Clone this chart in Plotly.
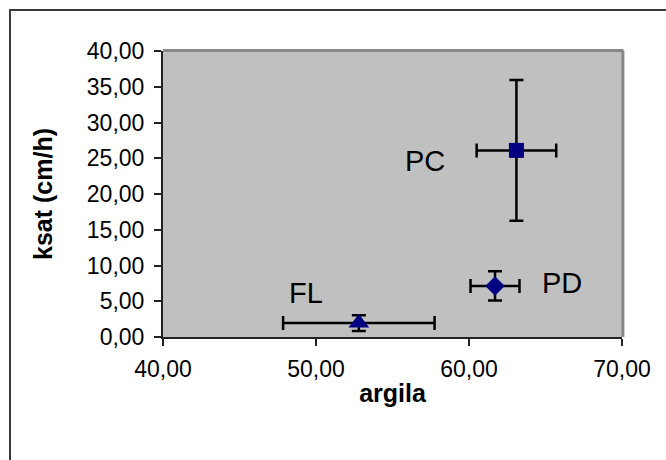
import plotly.graph_objects as go

# Site means of clay content (argila) vs saturated hydraulic conductivity (ksat)
sites = ["PC", "PD", "FL"]
argila = [63.1, 61.7, 52.8]
argila_err = [2.6, 1.6, 4.95]
ksat = [26.1, 7.15, 1.95]
ksat_err = [9.85, 2.05, 1.1]
symbols = ["square", "diamond", "triangle-up"]
sizes = [15, 15, 18]

x_ticks = [40, 50, 60, 70]
y_ticks = [0, 5, 10, 15, 20, 25, 30, 35, 40]

# label offsets (px) relative to each point
label_shift = {"PC": (-91, -11), "PD": (67, 3), "FL": (-53, 30)}

FONT = "Liberation Sans, Arial, sans-serif"
NAVY = "#000080"

fig = go.Figure()
for name, x, xe, y, ye, sym, sz in zip(sites, argila, argila_err, ksat, ksat_err, symbols, sizes):
    fig.add_trace(go.Scatter(
        x=[x], y=[y], mode="markers", name=name,
        marker=dict(symbol=sym, size=sz, color=NAVY, line=dict(width=0)),
        error_x=dict(type="data", array=[xe], color="black", thickness=2.5, width=7),
        error_y=dict(type="data", array=[ye], color="black", thickness=2.5, width=7),
        showlegend=False,
    ))
    dx, dy = label_shift[name]
    fig.add_annotation(x=x, y=y, text=name, showarrow=False,
                       xshift=dx, yshift=dy, xanchor="center", yanchor="middle",
                       font=dict(family=FONT, size=29, color="black"))

L, R, T, B = 163, 44, 51, 123
W, H = 666, 460
pw, ph = W - L - R, H - T - B

def px_x(p):
    return (p - L) / pw

def px_y(p):
    return (H - B - p) / ph

# plot-area frame (top and right), grey
fig.add_shape(type="line", xref="paper", yref="paper", x0=0, x1=1.003, y0=1.002, y1=1.002,
              line=dict(color="#878787", width=3), layer="above")
fig.add_shape(type="line", xref="paper", yref="paper", x0=1.002, x1=1.002, y0=0, y1=1.002,
              line=dict(color="#878787", width=3), layer="above")
# outer chart frame
fig.add_shape(type="rect", xref="paper", yref="paper",
              x0=px_x(10), x1=px_x(690), y0=px_y(490), y1=px_y(10),
              line=dict(color="#3a3a3a", width=2), fillcolor="rgba(0,0,0,0)", layer="above")

fig.update_layout(
    width=W, height=H,
    margin=dict(l=L, r=R, t=T, b=B, pad=0),
    paper_bgcolor="white", plot_bgcolor="#C0C0C0",
    separators=",.",
    font=dict(family=FONT, size=23, color="black"),
    xaxis=dict(
        range=[40, 70], tickvals=x_ticks, tickformat=".2f",
        showgrid=False, zeroline=False,
        showline=True, linecolor="#222222", linewidth=2,
        ticks="outside", ticklen=7, tickwidth=1.5, tickcolor="#222222",
        ticklabelstandoff=3,
        title=dict(text="<b>argila</b>", font=dict(family=FONT, size=25), standoff=4),
    ),
    yaxis=dict(
        range=[0, 40], tickvals=y_ticks, tickformat=".2f",
        showgrid=False, zeroline=False,
        showline=True, linecolor="#222222", linewidth=2,
        ticks="outside", ticklen=7, tickwidth=1.5, tickcolor="#222222",
        ticklabelstandoff=5,
        title=dict(text="<b>ksat (cm/h)</b>", font=dict(family=FONT, size=25), standoff=27),
    ),
)

fig.write_html("out.html")
